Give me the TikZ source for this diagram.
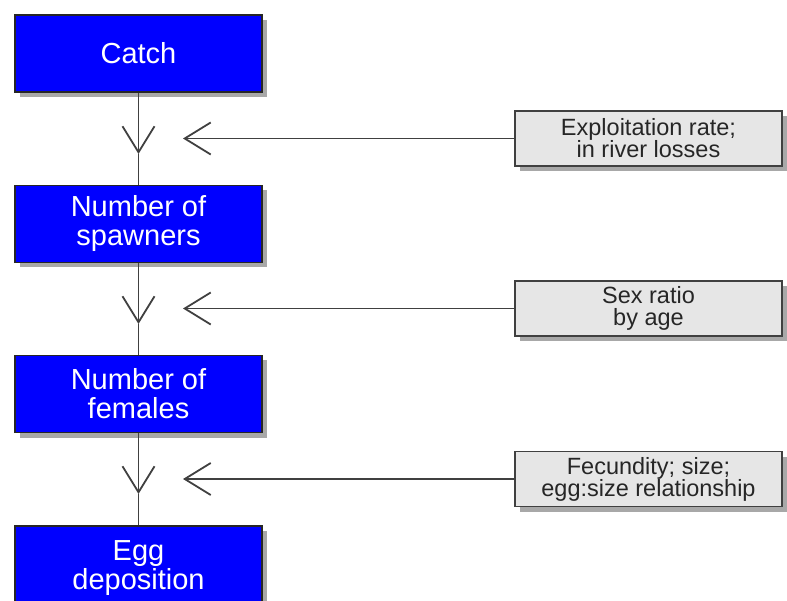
\documentclass[tikz,border=0pt]{standalone}
\usepackage{fontspec}
\setmainfont{Liberation Sans}
\usetikzlibrary{arrows.meta,shadows}
\definecolor{linegray}{HTML}{404040}
\definecolor{boxgray}{HTML}{E6E6E6}
\definecolor{shadowgray}{HTML}{A8A8A8}
\begin{document}
\begin{tikzpicture}[x=1pt,y=-1pt,
  stage/.style={draw=black!85, line width=1.5pt, fill=blue, text=white,
    minimum width=247pt, minimum height=77pt, inner sep=0pt, align=center,
    font=\fontsize{29}{29}\selectfont,
    drop shadow={shadow xshift=5pt, shadow yshift=-5pt, fill=shadowgray, opacity=1}},
  factor/.style={draw=linegray, line width=1.5pt, fill=boxgray, text=black!85,
    minimum width=267pt, minimum height=55pt, inner sep=0pt, align=center,
    font=\fontsize{23.5}{22}\selectfont,
    drop shadow={shadow xshift=5pt, shadow yshift=-5pt, fill=shadowgray, opacity=1}},
  flow/.style={draw=linegray, line width=1.8pt},
  tip/.style={-{Straight Barb[length=26pt,width=32pt,line width=1.8pt]}}
]
\clip (0,0) rectangle (787,601);
\useasboundingbox (0,0) rectangle (787,601);
\fill[white] (0,0) rectangle (787,601);

\node[stage] (b1) at (138.5,53.5) {Catch};
\node[stage] (b2) at (138.5,224) {Number of\\spawners};
\node[stage] (b3) at (138.5,394) {Number of\\females};
\node[stage, minimum height=84pt] (b4) at (138.5,568) {Egg\\deposition};

\node[factor] (f1) at (648.5,138.5) {Exploitation rate;\\in river losses};
\node[factor] (f2) at (648.5,308.5) {Sex ratio\\by age};
\node[factor] (f3) at (648.5,479) {Fecundity; size;\\egg:size relationship};

\coordinate (v1) at (138.5,154);
\coordinate (v2) at (138.5,324);
\coordinate (v3) at (138.5,494);
\coordinate (h1) at (183,138.5);
\coordinate (h2) at (183,308.5);
\coordinate (h3) at (183,479);

\draw[flow,tip] (b1.south) -- (v1);
\draw[flow] (v1) -- (b2.north);
\draw[flow,tip] (b2.south) -- (v2);
\draw[flow] (v2) -- (b3.north);
\draw[flow,tip] (b3.south) -- (v3);
\draw[flow] (v3) -- (b4.north);

\draw[flow,tip] (f1.west) -- (h1);
\draw[flow,tip] (f2.west) -- (h2);
\draw[flow,tip] (f3.west) -- (h3);
\end{tikzpicture}
\end{document}
